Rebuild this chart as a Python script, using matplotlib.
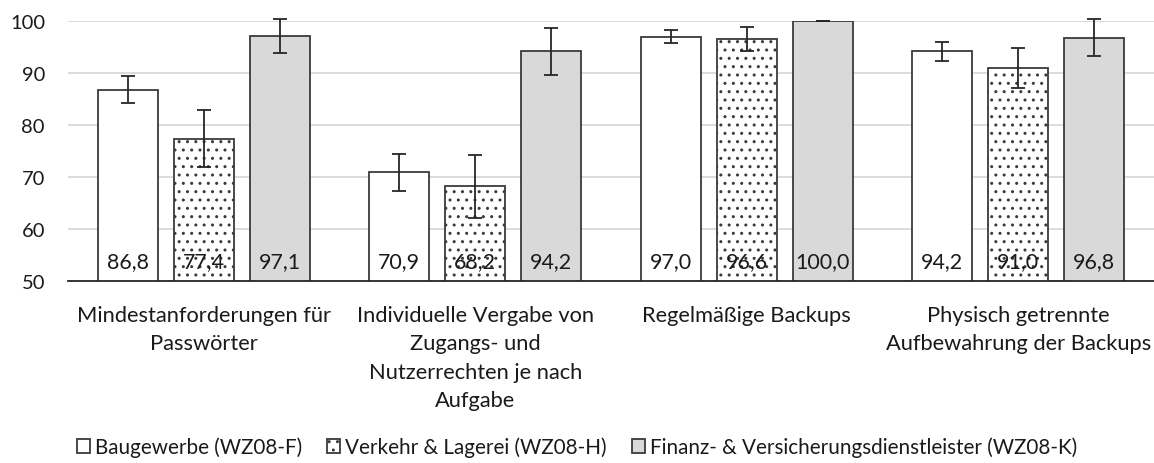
import matplotlib
matplotlib.use("Agg")
import matplotlib.pyplot as plt
from matplotlib.font_manager import FontProperties
import numpy as np

FAMILY = ['Lato', 'DejaVu Sans']
plt.rcParams['font.family'] = FAMILY
plt.rcParams['hatch.linewidth'] = 1.0

categories = ["Mindestanforderungen für\nPasswörter",
              "Individuelle Vergabe von\nZugangs- und\nNutzerrechten je nach\nAufgabe",
              "Regelmäßige Backups",
              "Physisch getrennte\nAufbewahrung der Backups"]
series_names = ["Baugewerbe (WZ08-F)", "Verkehr & Lagerei (WZ08-H)",
                "Finanz- & Versicherungsdienstleister (WZ08-K)"]
bau = [86.8, 70.9, 97.0, 94.2]
verkehr = [77.4, 68.2, 96.6, 91.0]
finanz = [97.1, 94.2, 100.0, 96.8]
bau_err = [2.6, 3.6, 1.3, 1.8]
verkehr_err = [5.4, 6.0, 2.3, 3.8]
finanz_err = [3.2, 4.5, 0.0, 3.5]

DPI = 100
fig = plt.figure(figsize=(11.54, 4.64), dpi=DPI)
renderer = fig.canvas.get_renderer()


def fit_size(text, target_px):
    prop = FontProperties(family=FAMILY, size=10)
    w, h, d = renderer.get_text_width_height_descent(text, prop, ismath=False)
    return 10 * target_px / w


fs_xlab = fit_size("Mindestanforderungen für", 256)
fs_tick = fit_size("100", 35)
fs_data = fit_size("86,8", 42)
fs_leg = np.mean([fit_size("Baugewerbe (WZ08-F)", 216),
                  fit_size("Verkehr & Lagerei (WZ08-H)", 272),
                  fit_size("Finanz- & Versicherungsdienstleister (WZ08-K)", 394)])

# line spacing for category labels: ~28.5 px between baselines
prop = FontProperties(family=FAMILY, size=fs_xlab)
_, lp_h, lp_d = renderer.get_text_width_height_descent("lp", prop, ismath=False)
lsp = (28.5 - lp_d) / (lp_h - lp_d)

ax = fig.add_axes([68/1154, 1-282/464, (1154-68)/1154, 260/464])

x = np.arange(len(categories))
w = 0.221
off = 0.28
edge = '#3a3a3a'
styles = [dict(color='white', hatch=None),
          dict(color='white', hatch='..'),
          dict(color='#d9d9d9', hatch=None)]
vals = [bau, verkehr, finanz]
errs = [bau_err, verkehr_err, finanz_err]
handles = []
for i, (v, e, st) in enumerate(zip(vals, errs, styles)):
    pos = x + (i - 1) * off
    b = ax.bar(pos, v, w, color=st['color'], edgecolor=edge, linewidth=1.3,
               hatch=st['hatch'], zorder=2, label=series_names[i])
    eb = ax.errorbar(pos, v, yerr=e, fmt='none', ecolor='#262626', elinewidth=1.3,
                     capsize=4.7, capthick=1.3, zorder=3)
    for artist in eb.lines[1] + eb.lines[2]:
        artist.set_clip_on(False)
    for p, val in zip(pos, v):
        ax.text(p, 52.6, f"{val:.1f}".replace('.', ','), ha='center', va='baseline',
                fontsize=fs_data, color='#1a1a1a', zorder=4)
    handles.append(b)

ax.set_ylim(50, 100)
ax.set_xlim(-0.5, 3.5)
ax.set_yticks(range(50, 101, 10))
ax.yaxis.grid(True, color='#d9d9d9', linewidth=1.3, zorder=0)
ax.set_axisbelow(True)
for s in ['top', 'right', 'left']:
    ax.spines[s].set_visible(False)
ax.spines['bottom'].set_color('#262626')
ax.spines['bottom'].set_linewidth(1.3)
ax.tick_params(axis='y', length=0, labelsize=fs_tick, pad=23 * 72 / DPI, labelcolor='#1a1a1a')
ax.tick_params(axis='x', length=0, labelsize=fs_xlab, pad=17, labelcolor='#1a1a1a')
ax.set_xticks(x)
ax.set_xticklabels(categories, linespacing=lsp, va='top')

leg_px = fs_leg * DPI / 72
fig.legend(handles=handles, labels=series_names, loc='center', bbox_to_anchor=(0.5, 1-448/464),
           ncol=3, frameon=False, fontsize=fs_leg, handlelength=13/leg_px, handleheight=13/leg_px,
           handletextpad=5/leg_px, columnspacing=25/leg_px, labelcolor='#1a1a1a')

fig.savefig("out.png", dpi=DPI)
